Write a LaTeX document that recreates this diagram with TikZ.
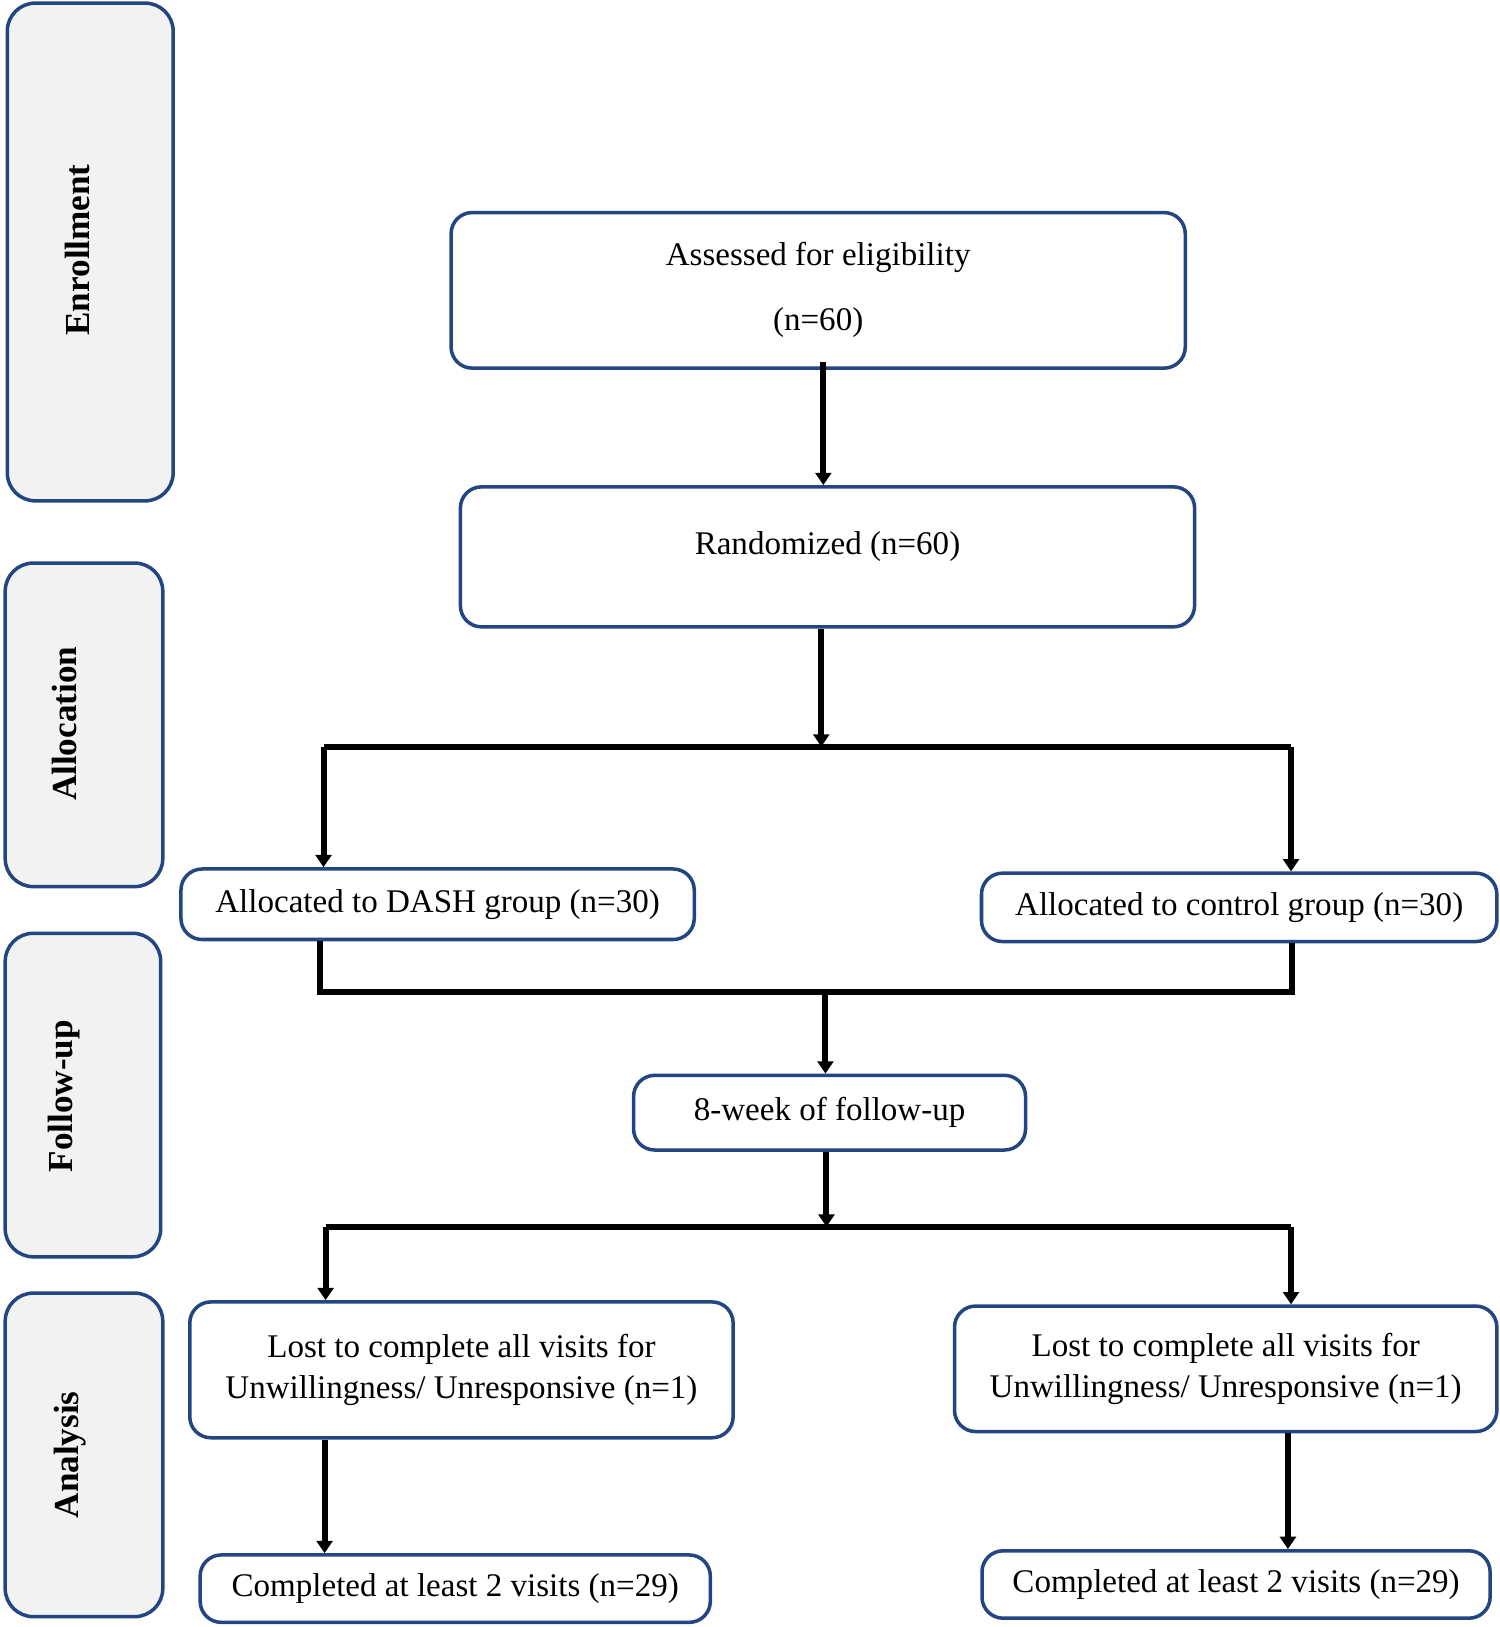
\documentclass[tikz,border=0pt]{standalone}
\usepackage{fontspec}
\setmainfont{Liberation Serif}
\usetikzlibrary{arrows.meta}
\definecolor{bd}{RGB}{35,70,130}
\definecolor{sg}{RGB}{242,242,242}
\begin{document}
\begin{tikzpicture}[x=0.02074cm,y=-0.02074cm,
 box/.style={draw=bd,line width=2pt,rounded corners=12pt,fill=white,font=\fontsize{18.8}{23}\selectfont,align=center,inner sep=0pt},
 side/.style={draw=bd,line width=2pt,rounded corners=16pt,fill=sg,inner sep=0pt},
 lab/.style={rotate=90,font=\bfseries\fontsize{20}{24}\selectfont},
 ln/.style={line width=3.4pt},
 ar/.style={ln,-{Triangle[length=7pt,width=9pt]}}]
\useasboundingbox (0,0) rectangle (1446,1569);
% side panels
\node[side,minimum width=160*0.02074cm,minimum height=480*0.02074cm] (s1) at (87,243) {};
\node[side,minimum width=152*0.02074cm,minimum height=312*0.02074cm] (s2) at (81,699) {};
\node[side,minimum width=150*0.02074cm,minimum height=312*0.02074cm] (s3) at (80,1056) {};
\node[side,minimum width=152*0.02074cm,minimum height=312*0.02074cm] (s4) at (81,1403) {};
\node[lab] (l1) at (75,241) {Enrollment};
\node[lab] (l2) at (62,698) {Allocation};
\node[lab] (l3) at (62,1057) {Follow-up};
\node[lab] (l4) at (68,1403) {Analysis};
% boxes
\node[box,minimum width=708*0.02074cm,minimum height=150*0.02074cm] (A) at (789,280) {Assessed for eligibility\\[14pt](n=60)};
\node[box,minimum width=708*0.02074cm,minimum height=135*0.02074cm] (R) at (798,537) {};
\node[font=\fontsize{18.8}{23}\selectfont] (Rt) at (798,527) {Randomized (n=60)};
\node[box,minimum width=495*0.02074cm,minimum height=68*0.02074cm] (D) at (422,872) {Allocated to DASH group (n=30)};
\node[box,minimum width=497*0.02074cm,minimum height=66*0.02074cm] (C) at (1195,875) {Allocated to control group (n=30)};
\node[box,minimum width=378*0.02074cm,minimum height=72*0.02074cm] (F) at (800,1073) {8-week of follow-up};
\node[box,minimum width=524*0.02074cm,minimum height=131*0.02074cm] (L1) at (445,1321) {Lost to complete all visits for\\Unwillingness/ Unresponsive (n=1)};
\node[box,minimum width=523*0.02074cm,minimum height=121*0.02074cm] (L2) at (1182,1320) {Lost to complete all visits for\\Unwillingness/ Unresponsive (n=1)};
\node[box,minimum width=492*0.02074cm,minimum height=65*0.02074cm] (C1) at (439,1532) {Completed at least 2 visits (n=29)};
\node[box,minimum width=490*0.02074cm,minimum height=65*0.02074cm] (C2) at (1192,1528) {Completed at least 2 visits (n=29)};
% junction coordinates
\coordinate (j1) at (792,720);
\coordinate (j1l) at (312,720);
\coordinate (j1r) at (1245,720);
\coordinate (j2) at (796,957);
\coordinate (j2l) at (309,957);
\coordinate (j2r) at (1246,957);
\coordinate (j3) at (797,1183);
\coordinate (j3l) at (314,1183);
\coordinate (j3r) at (1245,1183);
% connectors
\draw[ar] (A.south -| 794,0) ++(0,-8) -- (R.north -| 794,0);
\draw[ar] (R.south -| j1) -- (j1);
\draw[ln] (j1l) -- (j1r);
\draw[ar] (j1l) -- (D.north -| j1l);
\draw[ar] (j1r) -- (C.north -| j1r);
\draw[ln] (D.south -| j2l) -- (j2l) -- (j2r) -- (C.south -| j2r);
\draw[ar] (j2) -- (F.north -| j2);
\draw[ar] (F.south -| j3) -- (j3);
\draw[ln] (j3l) -- (j3r);
\draw[ar] (j3l) -- (L1.north -| j3l);
\draw[ar] (j3r) -- (L2.north -| j3r);
\draw[ar] (L1.south -| 313,0) -- (C1.north -| 313,0);
\draw[ar] (L2.south -| 1242,0) -- (C2.north -| 1242,0);
\end{tikzpicture}
\end{document}
